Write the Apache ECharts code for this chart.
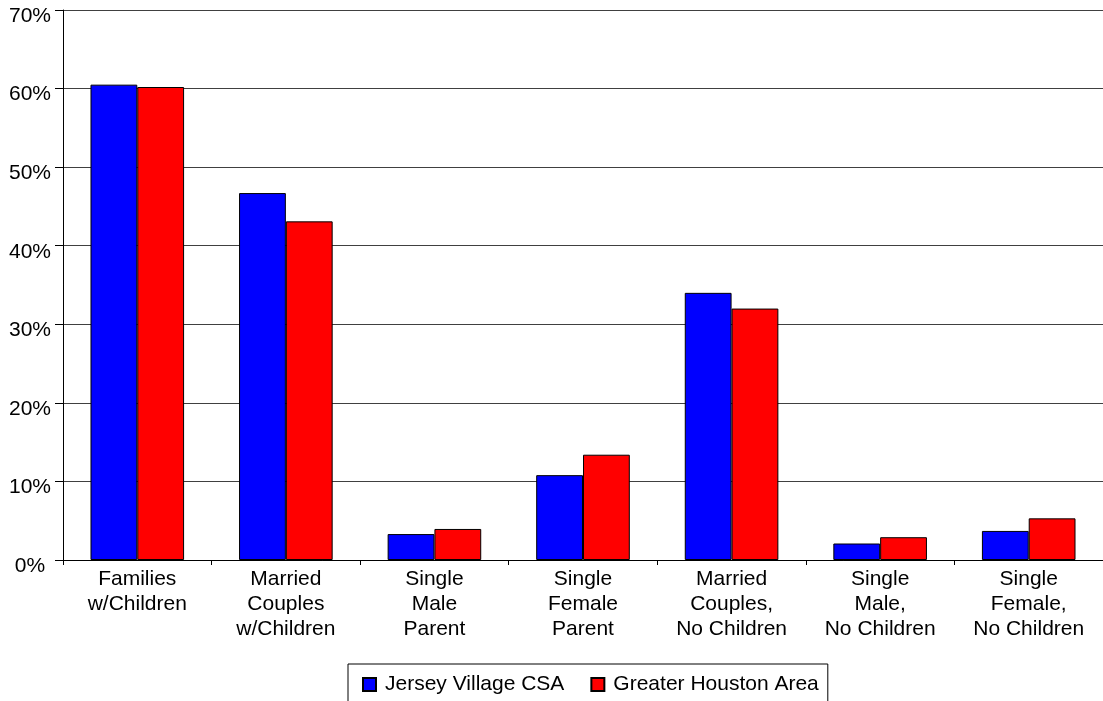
<!DOCTYPE html>
<html>
<head>
<meta charset="utf-8">
<script src="https://cdn.jsdelivr.net/npm/echarts@6/dist/echarts.min.js"></script>
<style>html,body{margin:0;padding:0;background:#fff;}#chart{width:1103px;height:701px;}</style>
</head>
<body>
<div id="chart"></div>
<script>
const categories = [
  "Families\nw/Children",
  "Married\nCouples\nw/Children",
  "Single\nMale\nParent",
  "Single\nFemale\nParent",
  "Married\nCouples,\nNo Children",
  "Single\nMale,\nNo Children",
  "Single\nFemale,\nNo Children"
];
const seriesNames = ["Jersey Village CSA", "Greater Houston Area"];
const jerseyVillage = [60.5, 46.7, 3.3, 10.8, 34.0, 2.1, 3.7];
const greaterHouston = [60.2, 43.1, 3.95, 13.4, 32.0, 2.9, 5.3];
const yTicks = [0, 10, 20, 30, 40, 50, 60, 70];

const FONT = "'Liberation Sans', Arial, sans-serif";
const chart = echarts.init(document.getElementById('chart'));
chart.setOption({
  animation: false,
  backgroundColor: '#fff',
  grid: { left: 63, top: 10, right: -8, bottom: 141, containLabel: false },
  legend: {
    data: seriesNames,
    left: 348, top: 664,
    orient: 'horizontal',
    borderColor: '#000', borderWidth: 1,
    padding: [10, 9, 10, 14],
    itemWidth: 13, itemHeight: 13,
    itemGap: 26,
    icon: 'rect',
    textStyle: { fontFamily: FONT, fontSize: 21, color: '#000', padding: [0, 0, 0, 4] }
  },
  xAxis: {
    type: 'category',
    data: categories,
    axisLine: { lineStyle: { color: '#000', width: 1 } },
    axisTick: { show: true, length: 5, alignWithLabel: false, lineStyle: { color: '#000' } },
    axisLabel: { fontFamily: FONT, fontSize: 21, color: '#000', lineHeight: 25, margin: 7, interval: 0 }
  },
  yAxis: {
    type: 'value',
    min: yTicks[0], max: yTicks[yTicks.length - 1], interval: 10,
    axisLine: { show: true, lineStyle: { color: '#000', width: 1 } },
    axisTick: { show: true, length: 8, lineStyle: { color: '#000' } },
    axisLabel: { fontFamily: FONT, fontSize: 21, color: '#000', margin: 33, align: 'center', verticalAlign: 'top', lineHeight: 12, formatter: '{value}%' },
    splitLine: { show: true, lineStyle: { color: '#404040', width: 1 } }
  },
  series: [
    {
      name: seriesNames[0], type: 'bar', data: jerseyVillage,
      barGap: '0%', barCategoryGap: '37%',
      itemStyle: { color: '#0000FF', borderColor: '#000', borderWidth: 1 }
    },
    {
      name: seriesNames[1], type: 'bar', data: greaterHouston,
      barGap: '0%', barCategoryGap: '37%',
      itemStyle: { color: '#FF0000', borderColor: '#000', borderWidth: 1 }
    }
  ]
});
</script>
</body>
</html>
